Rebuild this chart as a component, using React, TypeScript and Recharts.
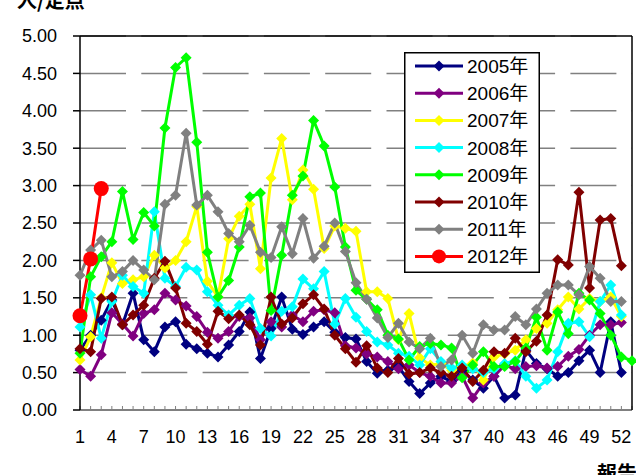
import React from 'react';
import { LineChart, Line, XAxis, YAxis, CartesianGrid, Legend, ReferenceLine } from 'recharts';

// weekly values (人/定点)
const weeks = Array.from({ length: 53 }, (_, i) => i + 1);
const yTicks = [0, 0.5, 1, 1.5, 2, 2.5, 3, 3.5, 4, 4.5, 5];

const s2005 = [0.80, 1.00, 1.20, 1.47, 1.14, 1.56, 0.94, 0.78, 1.11, 1.18, 0.88, 0.82, 0.76, 0.71, 0.87, 1.05, 1.31, 0.69, 1.09, 1.51, 1.08, 1.01, 1.11, 1.18, 1.04, 0.97, 0.95, 0.65, 0.49, 0.53, 0.58, 0.38, 0.22, 0.36, 0.45, 0.38, 0.53, 0.40, 0.29, 0.45, 0.16, 0.20, 0.80, 0.62, 0.55, 0.45, 0.50, 0.66, 0.80, 0.50, 1.18, 0.50];
const s2006 = [0.54, 0.45, 0.74, 1.30, 1.15, 0.99, 1.29, 1.34, 1.56, 1.47, 1.39, 1.25, 1.04, 0.96, 1.05, 1.25, 1.23, 0.94, 1.18, 1.11, 1.27, 1.18, 1.32, 1.34, 1.30, 0.86, 0.83, 0.75, 0.71, 0.65, 0.55, 0.60, 0.50, 0.45, 0.36, 0.36, 0.45, 0.16, 0.36, 0.45, 0.60, 0.55, 0.58, 0.59, 0.56, 0.58, 0.72, 0.81, 1.00, 1.14, 1.14, 1.17];
const s2007 = [0.67, 0.98, 1.50, 1.97, 1.69, 1.74, 1.78, 2.07, 1.90, 2.00, 2.25, 2.72, 1.72, 1.51, 2.29, 2.59, 2.75, 1.89, 3.10, 3.63, 2.81, 3.21, 2.95, 2.16, 2.46, 2.43, 2.39, 1.58, 1.58, 1.49, 0.94, 1.29, 0.70, 0.60, 0.62, 0.53, 0.58, 0.63, 0.40, 0.71, 0.75, 0.80, 0.94, 1.09, 1.16, 1.34, 1.51, 1.35, 1.49, 1.45, 1.51, 1.25];
const s2008 = [1.11, 1.54, 0.96, 1.45, 1.80, 1.65, 1.56, 2.65, 1.76, 1.65, 1.91, 1.87, 1.58, 1.40, 1.27, 1.40, 1.49, 1.09, 0.99, 1.32, 1.38, 1.75, 1.62, 1.85, 1.15, 1.49, 1.24, 1.05, 0.91, 0.87, 0.76, 0.72, 0.60, 0.82, 0.65, 0.56, 0.60, 0.55, 0.50, 0.55, 0.62, 0.66, 0.45, 0.29, 0.40, 0.78, 1.16, 1.18, 0.98, 1.45, 1.67, 1.27];
const s2009 = [0.76, 1.78, 2.05, 2.25, 2.92, 2.28, 2.64, 2.46, 3.77, 4.58, 4.71, 3.58, 2.11, 1.51, 1.73, 2.18, 2.85, 2.90, 1.33, 2.07, 2.87, 3.13, 3.87, 3.53, 2.98, 2.18, 1.60, 1.48, 1.34, 1.00, 0.95, 0.67, 0.85, 0.89, 0.87, 0.83, 0.43, 0.60, 0.78, 0.58, 0.58, 0.65, 0.83, 1.24, 0.80, 1.31, 1.02, 1.56, 1.47, 1.29, 1.00, 0.71, 0.66];
const s2010 = [0.82, 0.78, 1.49, 1.51, 1.14, 1.27, 1.40, 1.76, 1.99, 1.63, 1.16, 1.05, 0.88, 1.32, 1.22, 1.27, 1.14, 0.87, 1.51, 1.15, 1.23, 1.42, 1.54, 1.35, 1.00, 0.82, 0.64, 0.86, 0.56, 0.50, 0.69, 0.48, 0.50, 0.56, 0.50, 0.45, 0.56, 0.38, 0.53, 0.78, 0.76, 0.96, 0.78, 0.92, 1.27, 2.01, 1.94, 2.91, 1.63, 2.54, 2.56, 1.93];
const s2011 = [1.80, 2.14, 2.27, 1.78, 1.85, 2.00, 1.87, 1.74, 2.75, 2.87, 3.70, 2.74, 2.87, 2.65, 2.36, 2.25, 2.47, 2.11, 2.04, 2.45, 2.09, 2.56, 2.03, 2.19, 2.50, 2.12, 1.70, 1.48, 1.23, 0.97, 1.16, 0.91, 0.82, 0.96, 0.58, 0.67, 1.00, 0.76, 1.14, 1.07, 1.07, 1.25, 1.14, 1.35, 1.56, 1.67, 1.67, 1.54, 1.92, 1.76, 1.45, 1.45];
const s2012 = [1.26, 2.02, 2.96];

const series = [
    { key: 'y2005', name: '2005年', color: '#000080', values: s2005, circle: false },
    { key: 'y2006', name: '2006年', color: '#800080', values: s2006, circle: false },
    { key: 'y2007', name: '2007年', color: '#FFFF00', values: s2007, circle: false },
    { key: 'y2008', name: '2008年', color: '#00FFFF', values: s2008, circle: false },
    { key: 'y2009', name: '2009年', color: '#00FF00', values: s2009, circle: false },
    { key: 'y2010', name: '2010年', color: '#800000', values: s2010, circle: false },
    { key: 'y2011', name: '2011年', color: '#808080', values: s2011, circle: false },
    { key: 'y2012', name: '2012年', color: '#FF0000', values: s2012, circle: true },
];

const data = weeks.map((w, i) => {
    const row: Record<string, number | undefined> = { week: w };
    series.forEach((s) => {
        row[s.key] = s.values[i];
    });
    return row;
});

const FONT = "'Liberation Sans', 'Noto Sans CJK JP', sans-serif";
const CJK = "'Noto Sans CJK JP', sans-serif";

const makeDot = (color: string, circle: boolean) => (props: any) => {
    const { cx, cy, index } = props;
    if (cx == null || cy == null) return <g key={index} />;
    if (circle) return <circle key={index} cx={cx} cy={cy} r={7.5} fill={color} />;
    const r = 5.5;
    return (
        <path
            key={index}
            d={`M${cx},${cy - r}L${cx + r},${cy}L${cx},${cy + r}L${cx - r},${cy}Z`}
            fill={color}
        />
    );
};

const WeekTick = (props: any) => {
    const { x, y, payload } = props;
    if ((payload.value - 1) % 3 !== 0) return <g />;
    return (
        <text x={x} y={y + 37} textAnchor="middle" fontSize={18} fontFamily={FONT} fill="#000">
            {payload.value}
        </text>
    );
};

const renderLegend = () => (
    <svg width={136} height={221} style={{ display: 'block' }}>
        <rect x={0.75} y={0.75} width={134.5} height={219.5} fill="#fff" stroke="#000" strokeWidth={1.5} />
        {series.map((s, i) => {
            const cy = 14 + i * 27.2;
            const mx = 35;
            return (
                <g key={s.key}>
                    <line x1={11} y1={cy} x2={59} y2={cy} stroke={s.color} strokeWidth={3} />
                    {s.circle ? (
                        <circle cx={mx} cy={cy} r={7} fill={s.color} />
                    ) : (
                        <path d={`M${mx},${cy - 5.5}L${mx + 5.5},${cy}L${mx},${cy + 5.5}L${mx - 5.5},${cy}Z`} fill={s.color} />
                    )}
                    <text x={63} y={cy + 7} fontSize={19} fontFamily={FONT} fill="#000">
                        {s.name}
                    </text>
                </g>
            );
        })}
    </svg>
);

export default function App() {
    return (
        <div style={{ position: 'absolute', left: 0, top: 0, width: 636, height: 475, background: '#fff', overflow: 'hidden' }}>
            <LineChart width={636} height={475} data={data} margin={{ top: 36, right: 0, bottom: 35, left: 0 }}>
                <CartesianGrid vertical={false} stroke="#808080" strokeWidth={1.5} strokeDasharray="46 15.3" />
                <XAxis
                    dataKey="week"
                    interval={0}
                    height={30}
                    tickSize={-4}
                    tickMargin={0}
                    tick={<WeekTick />}
                    axisLine={{ stroke: '#808080', strokeWidth: 2 }}
                    tickLine={{ stroke: '#808080', strokeWidth: 1 }}
                />
                <YAxis
                    domain={[0, 5]}
                    ticks={yTicks}
                    width={80}
                    tickSize={7}
                    tickMargin={16}
                    tickFormatter={(v: number) => v.toFixed(2)}
                    tick={{ fontSize: 18, fontFamily: FONT, fill: '#000' }}
                    axisLine={{ stroke: '#000', strokeWidth: 1.5 }}
                    tickLine={{ stroke: '#000', strokeWidth: 1.5 }}
                />
                <YAxis
                    yAxisId="frame"
                    orientation="right"
                    domain={[0, 5]}
                    width={4}
                    tick={false}
                    tickLine={false}
                    axisLine={{ stroke: '#000', strokeWidth: 1.5 }}
                />
                <ReferenceLine y={5} stroke="#000" strokeWidth={1.5} />
                {series.map((s) => (
                    <Line
                        key={s.key}
                        dataKey={s.key}
                        name={s.name}
                        stroke={s.color}
                        strokeWidth={3}
                        dot={makeDot(s.color, s.circle)}
                        activeDot={false}
                        isAnimationActive={false}
                    />
                ))}
                <Legend
                    layout="vertical"
                    align="center"
                    verticalAlign="middle"
                    wrapperStyle={{ left: 404, top: 52, width: 136, height: 221 }}
                    content={renderLegend}
                />
            </LineChart>
            <svg width={636} height={475} style={{ position: 'absolute', left: 0, top: 0, pointerEvents: 'none' }}>
                <text x={17} y={8} fontSize={20} fontWeight="bold" fontFamily={CJK} fill="#000">人/定点</text>
                <text x={597} y={481} fontSize={20} fontWeight="bold" fontFamily={CJK} fill="#000">報告週</text>
            </svg>
        </div>
    );
}
